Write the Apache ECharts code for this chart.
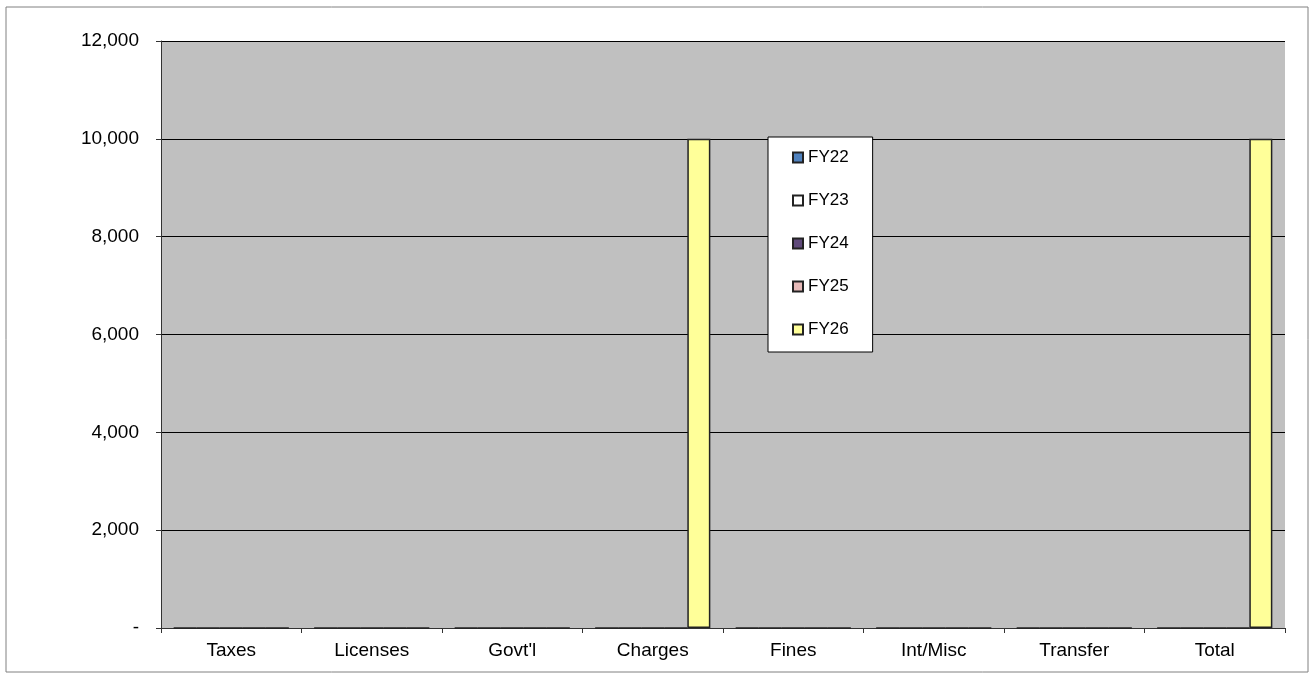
<!DOCTYPE html>
<html>
<head>
<meta charset="utf-8">
<script src="https://cdn.jsdelivr.net/npm/echarts@6/dist/echarts.min.js"></script>
<style>
  html, body { margin: 0; padding: 0; background: #fff; }
  #chart { width: 1315px; height: 679px; }
</style>
</head>
<body>
<div id="chart"></div>
<script>
// categories and values
var categories = ['Taxes', 'Licenses', "Govt'l", 'Charges', 'Fines', 'Int/Misc', 'Transfer', 'Total'];
var fy22 = [0, 0, 0, 0, 0, 0, 0, 0];
var fy23 = [0, 0, 0, 0, 0, 0, 0, 0];
var fy24 = [0, 0, 0, 0, 0, 0, 0, 0];
var fy25 = [0, 0, 0, 0, 0, 0, 0, 0];
var fy26 = [0, 0, 0, 10000, 0, 0, 0, 10000];
var seriesNames = ['FY22', 'FY23', 'FY24', 'FY25', 'FY26'];
var seriesColors = ['#4F81BD', '#FFFFFF', '#604A7B', '#E6B9B8', '#FFFF99'];

var chart = echarts.init(document.getElementById('chart'));

function bar(name, data, color) {
  return {
    name: name,
    type: 'bar',
    data: data,
    barGap: '0%',
    barCategoryGap: '18%',
    itemStyle: { color: color, borderColor: '#222', borderWidth: 1.5 }
  };
}

var option = {
  animation: false,
  textStyle: { fontFamily: 'Liberation Sans, Arial, sans-serif' },
  graphic: [{
    type: 'rect',
    shape: { x: 6, y: 7, width: 1302, height: 665 },
    style: { fill: 'none', stroke: '#808080', lineWidth: 1 },
    silent: true
  }],
  grid: {
    left: 161, top: 41, right: 30, bottom: 51,
    show: true, backgroundColor: '#C0C0C0', borderWidth: 0
  },
  legend: {
    orient: 'vertical',
    left: 768, top: 137,
    padding: [12, 24, 14, 24],
    backgroundColor: '#fff',
    borderColor: '#000',
    borderWidth: 1,
    borderRadius: 0,
    itemWidth: 10, itemHeight: 10, itemGap: 26,
    icon: 'rect',
    textStyle: { fontSize: 17, color: '#000', lineHeight: 17 },
    data: seriesNames
  },
  xAxis: {
    type: 'category',
    data: categories,
    axisLine: { lineStyle: { color: '#333', width: 1 } },
    axisTick: { show: true, length: 5, lineStyle: { color: '#333' } },
    axisLabel: { color: '#000', fontSize: 19, margin: 13 }
  },
  yAxis: {
    type: 'value',
    min: 0, max: 12000, interval: 2000,
    axisLine: { show: true, lineStyle: { color: '#333', width: 1 } },
    axisTick: { show: true, length: 5, lineStyle: { color: '#333' } },
    splitLine: { lineStyle: { color: '#000', width: 1 } },
    axisLabel: {
      color: '#000', fontSize: 19, margin: 22,
      formatter: function (v) { return v === 0 ? '-' : v.toLocaleString('en-US'); }
    }
  },
  series: [
    bar(seriesNames[0], fy22, seriesColors[0]),
    bar(seriesNames[1], fy23, seriesColors[1]),
    bar(seriesNames[2], fy24, seriesColors[2]),
    bar(seriesNames[3], fy25, seriesColors[3]),
    bar(seriesNames[4], fy26, seriesColors[4])
  ]
};

chart.setOption(option);
</script>
</body>
</html>
